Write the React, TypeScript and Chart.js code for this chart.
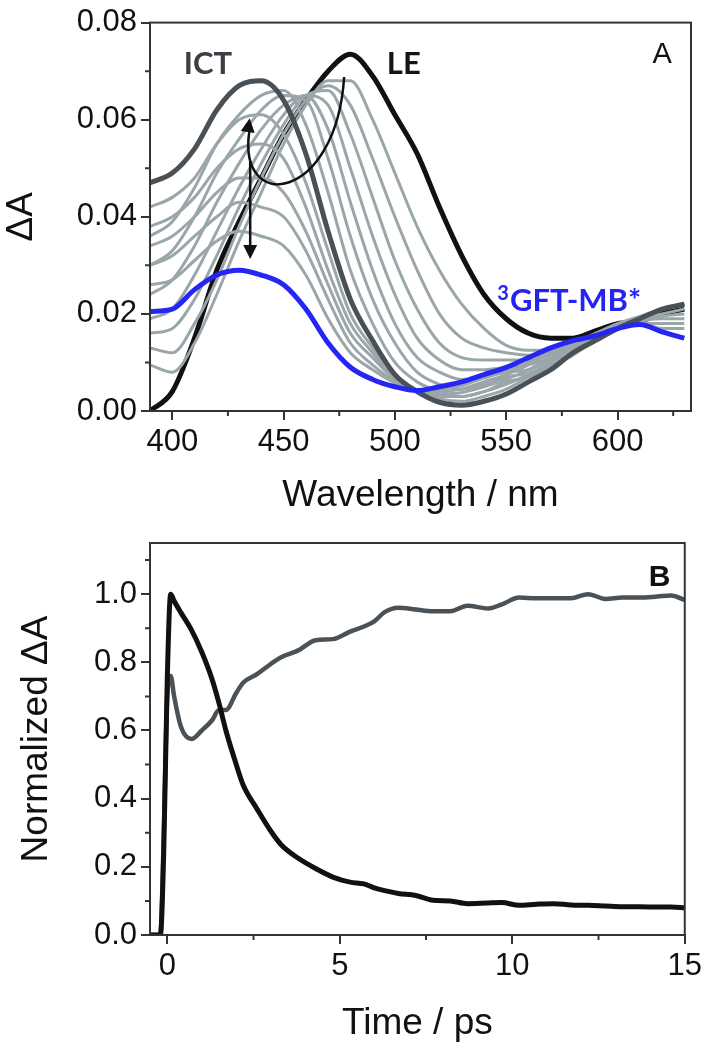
import { useEffect, useRef } from "react"
import { Chart, registerables } from "chart.js"

Chart.register(...registerables)

// ---- panel A: transient spectra ----
const wavelengths = [390, 400, 410, 420, 430, 440, 450, 460, 470, 480, 490, 500, 510, 520, 530, 540, 550, 560, 570, 580, 590, 600, 610, 620, 630]

const leSpectrum = [0.0, 0.004, 0.015, 0.029, 0.039, 0.048, 0.057, 0.064, 0.07, 0.0735, 0.069, 0.061, 0.053, 0.042, 0.032, 0.024, 0.019, 0.016, 0.015, 0.015, 0.0165, 0.018, 0.0185, 0.02, 0.021]
const ictSpectrum = [0.047, 0.049, 0.054, 0.062, 0.067, 0.068, 0.064, 0.053, 0.037, 0.023, 0.0145, 0.0075, 0.004, 0.0018, 0.0012, 0.002, 0.0035, 0.006, 0.0085, 0.012, 0.0145, 0.017, 0.019, 0.021, 0.022]
const tripletSpectrum = [0.0205, 0.021, 0.025, 0.028, 0.029, 0.028, 0.026, 0.021, 0.014, 0.009, 0.0065, 0.005, 0.0042, 0.005, 0.006, 0.0075, 0.009, 0.011, 0.013, 0.0145, 0.0155, 0.017, 0.0178, 0.0163, 0.015]

// LE -> ICT conversion
const rise1 = [0.036, 0.039, 0.046, 0.055, 0.061, 0.065, 0.066, 0.059, 0.045, 0.029, 0.018, 0.01, 0.006, 0.004, 0.003, 0.004, 0.006, 0.007, 0.009, 0.0115, 0.0145, 0.017, 0.019, 0.021, 0.022]
const rise2 = [0.03, 0.033, 0.04, 0.049, 0.056, 0.062, 0.065, 0.064, 0.052, 0.036, 0.023, 0.014, 0.008, 0.0055, 0.0045, 0.0055, 0.007, 0.0078, 0.0098, 0.012, 0.0145, 0.017, 0.019, 0.021, 0.022]
const rise3 = [0.024, 0.027, 0.034, 0.043, 0.051, 0.058, 0.063, 0.065, 0.058, 0.043, 0.029, 0.018, 0.011, 0.008, 0.0065, 0.007, 0.008, 0.0085, 0.0105, 0.0125, 0.015, 0.017, 0.019, 0.021, 0.022]
const rise4 = [0.019, 0.021, 0.028, 0.037, 0.046, 0.054, 0.061, 0.065, 0.063, 0.05, 0.036, 0.024, 0.015, 0.0105, 0.0085, 0.0085, 0.009, 0.0095, 0.011, 0.013, 0.015, 0.017, 0.019, 0.021, 0.022]
const rise5 = [0.016, 0.017, 0.023, 0.032, 0.042, 0.051, 0.059, 0.065, 0.066, 0.057, 0.044, 0.031, 0.021, 0.014, 0.011, 0.0105, 0.0105, 0.0105, 0.0115, 0.013, 0.015, 0.017, 0.019, 0.021, 0.022]
const rise6 = [0.013, 0.012, 0.018, 0.027, 0.038, 0.048, 0.057, 0.064, 0.067, 0.063, 0.052, 0.04, 0.029, 0.02, 0.015, 0.013, 0.012, 0.0115, 0.012, 0.0135, 0.0155, 0.0175, 0.019, 0.021, 0.022]
const rise7 = [0.0095, 0.008, 0.014, 0.024, 0.035, 0.045, 0.055, 0.063, 0.068, 0.068, 0.06, 0.049, 0.038, 0.029, 0.022, 0.017, 0.0135, 0.0125, 0.0125, 0.014, 0.016, 0.018, 0.0195, 0.021, 0.022]

// ICT -> triplet decay
const decay1 = [0.042, 0.044, 0.048, 0.055, 0.06, 0.061, 0.057, 0.047, 0.033, 0.02, 0.013, 0.007, 0.004, 0.0025, 0.002, 0.003, 0.0045, 0.007, 0.0095, 0.0125, 0.015, 0.017, 0.019, 0.02, 0.021]
const decay2 = [0.038, 0.04, 0.044, 0.05, 0.054, 0.055, 0.052, 0.042, 0.029, 0.018, 0.012, 0.0068, 0.0042, 0.003, 0.003, 0.004, 0.0055, 0.0075, 0.01, 0.013, 0.015, 0.017, 0.0185, 0.0195, 0.02]
const decay3 = [0.034, 0.036, 0.04, 0.045, 0.048, 0.048, 0.045, 0.037, 0.026, 0.016, 0.011, 0.0065, 0.0042, 0.0035, 0.0038, 0.005, 0.0065, 0.0085, 0.011, 0.0135, 0.015, 0.017, 0.0185, 0.019, 0.019]
const decay4 = [0.03, 0.032, 0.036, 0.04, 0.043, 0.042, 0.04, 0.033, 0.023, 0.014, 0.0095, 0.006, 0.0042, 0.004, 0.0045, 0.006, 0.0075, 0.0095, 0.012, 0.014, 0.0152, 0.017, 0.018, 0.018, 0.018]
const decay5 = [0.026, 0.027, 0.031, 0.035, 0.037, 0.036, 0.034, 0.028, 0.019, 0.012, 0.0085, 0.0058, 0.0042, 0.0045, 0.0052, 0.0068, 0.0082, 0.01, 0.0125, 0.0142, 0.0153, 0.017, 0.018, 0.017, 0.017]

const intermediateSpectra = [rise1, rise2, rise3, rise4, rise5, rise6, rise7, decay1, decay2, decay3, decay4, decay5]

const wavelengthTicks = [400, 450, 500, 550, 600]
const wavelengthMinor = [425, 475, 525, 575, 625]
const deltaATicks = [0, 0.02, 0.04, 0.06, 0.08]
const deltaAMinor = [0.01, 0.03, 0.05, 0.07]

// ---- panel B: kinetics ----
const times = [-0.5, -0.2, -0.1, 0, 0.1, 0.2, 0.4, 0.7, 1.0, 1.3, 1.5, 1.7, 2.0, 2.2, 2.6, 3.0, 3.3, 3.8, 4.3, 4.8, 5.3, 5.7, 6.0, 6.3, 6.7, 7.2, 7.7, 8.2, 8.7, 9.3, 9.7, 10.2, 10.7, 11.2, 11.7, 12.2, 12.7, 13.2, 13.7, 14.2, 14.6, 15]
const leKinetics = [0, 0, 0.25, 0.75, 1.0, 0.98, 0.945, 0.895, 0.83, 0.75, 0.68, 0.6, 0.5, 0.44, 0.37, 0.305, 0.265, 0.225, 0.195, 0.17, 0.155, 0.15, 0.138, 0.13, 0.122, 0.116, 0.102, 0.1, 0.092, 0.094, 0.095, 0.087, 0.09, 0.092, 0.088, 0.087, 0.085, 0.083, 0.083, 0.082, 0.082, 0.08]
const ictKinetics = [0, 0, 0.3, 0.7, 0.76, 0.7, 0.61, 0.575, 0.6, 0.63, 0.66, 0.66, 0.71, 0.74, 0.765, 0.795, 0.815, 0.835, 0.865, 0.868, 0.89, 0.905, 0.92, 0.947, 0.96, 0.955, 0.95, 0.95, 0.966, 0.958, 0.97, 0.99, 0.988, 0.988, 0.988, 1.0, 0.986, 0.99, 0.99, 0.993, 0.996, 0.983]

const timeTicks = [0, 5, 10, 15]
const timeMinor = [2.5, 7.5, 12.5]
const normTicks = [0, 0.2, 0.4, 0.6, 0.8, 1.0]
const normMinor = [0.1, 0.3, 0.5, 0.7, 0.9, 1.1]

const FONT = "'Liberation Sans', Arial, sans-serif"
const NOTE_FONT = "Lato, 'Open Sans', sans-serif"
const axisColor = "#2f3539"
const textColor = "#111111"

const points = (xs: number[], ys: number[]) => xs.map((x, i) => ({ x, y: ys[i] }))

// box around the plot area + short minor ticks
function framePlugin(xMinor: number[], yMinor: number[]) {
  return {
    id: "frame",
    afterDraw(chart: any) {
      const { ctx, chartArea: a, scales } = chart
      ctx.save()
      ctx.strokeStyle = axisColor
      ctx.lineWidth = 2
      ctx.strokeRect(a.left, a.top, a.right - a.left, a.bottom - a.top)
      ctx.beginPath()
      xMinor.forEach((v) => {
        const px = scales.x.getPixelForValue(v)
        ctx.moveTo(px, a.bottom)
        ctx.lineTo(px, a.bottom + 5)
      })
      yMinor.forEach((v) => {
        const py = scales.y.getPixelForValue(v)
        ctx.moveTo(a.left, py)
        ctx.lineTo(a.left - 5, py)
      })
      ctx.stroke()
      ctx.restore()
    },
  }
}

function arrowHead(ctx: CanvasRenderingContext2D, tipX: number, tipY: number, dx: number, dy: number) {
  const len = Math.hypot(dx, dy)
  const ux = dx / len
  const uy = dy / len
  const size = 14
  const half = 7
  ctx.beginPath()
  ctx.moveTo(tipX, tipY)
  ctx.lineTo(tipX - ux * size - uy * half, tipY - uy * size + ux * half)
  ctx.lineTo(tipX - ux * size + uy * half, tipY - uy * size - ux * half)
  ctx.closePath()
  ctx.fill()
}

const spectraNotes = {
  id: "spectraNotes",
  afterDatasetsDraw(chart: any) {
    const { ctx } = chart
    const X = (v: number) => chart.scales.x.getPixelForValue(v)
    const Y = (v: number) => chart.scales.y.getPixelForValue(v)
    ctx.save()

    ctx.textBaseline = "alphabetic"
    ctx.textAlign = "center"
    ctx.font = `bold 31px ${NOTE_FONT}`
    ctx.fillStyle = "#3a4045"
    ctx.fillText("ICT", X(416), Y(0.0694))
    ctx.fillStyle = "#151515"
    ctx.fillText("LE", X(504), Y(0.0694))

    ctx.font = `29px ${FONT}`
    ctx.fillStyle = textColor
    ctx.fillText("A", X(620), Y(0.0717))

    // ³GFT-MB*
    ctx.textAlign = "left"
    ctx.fillStyle = "#2424f0"
    const startX = X(546)
    const baseY = Y(0.0206)
    ctx.font = `bold 20px ${NOTE_FONT}`
    ctx.fillText("3", startX, baseY - 11)
    const supW = ctx.measureText("3").width
    ctx.font = `bold 31px ${NOTE_FONT}`
    ctx.fillText("GFT-MB*", startX + supW + 1, baseY)

    // arrows
    ctx.strokeStyle = "#111111"
    ctx.fillStyle = "#111111"
    ctx.lineWidth = 2.5

    // straight arrow (ICT decay)
    const ax = X(435)
    ctx.beginPath()
    ctx.moveTo(ax, Y(0.0515))
    ctx.lineTo(ax, Y(0.0313) - 10)
    ctx.stroke()
    arrowHead(ctx, ax, Y(0.0313), 0, 1)

    // curved arrow (LE -> ICT)
    const p0 = [X(477.2), Y(0.0688)]
    const p1 = [X(473.6), Y(0.043)]
    const p2 = [X(429.2), Y(0.0405)]
    const p3 = [X(434.6), Y(0.0576)]
    ctx.beginPath()
    ctx.moveTo(p0[0], p0[1])
    ctx.bezierCurveTo(p1[0], p1[1], p2[0], p2[1], p3[0], p3[1])
    ctx.stroke()
    arrowHead(ctx, X(434.8), Y(0.0603), p3[0] - p2[0], p3[1] - p2[1])

    ctx.restore()
  },
}

const kineticsNotes = {
  id: "kineticsNotes",
  afterDatasetsDraw(chart: any) {
    const { ctx } = chart
    ctx.save()
    ctx.font = `bold 30px ${FONT}`
    ctx.fillStyle = textColor
    ctx.textAlign = "center"
    ctx.textBaseline = "alphabetic"
    ctx.fillText("B", chart.scales.x.getPixelForValue(14.27), chart.scales.y.getPixelForValue(1.0235))
    ctx.restore()
  },
}

function axis(opts: {
  min: number
  max: number
  ticks: number[]
  decimals: number
  title: string
  titlePadding: any
  fit: (scale: any) => void
}) {
  return {
    type: "linear" as const,
    min: opts.min,
    max: opts.max,
    afterBuildTicks: (scale: any) => {
      scale.ticks = opts.ticks.map((value) => ({ value }))
    },
    afterFit: opts.fit,
    ticks: {
      font: { family: FONT, size: 31 },
      color: textColor,
      padding: 4,
      maxRotation: 0,
      autoSkip: false,
      callback: (v: any) => Number(v).toFixed(opts.decimals),
    },
    grid: {
      display: true,
      drawOnChartArea: false,
      drawTicks: true,
      tickLength: 9,
      tickWidth: 2,
      tickColor: axisColor,
      color: axisColor,
      lineWidth: 2,
    },
    border: { display: true, color: axisColor, width: 2 },
    title: {
      display: true,
      text: opts.title,
      font: { family: FONT, size: 37 },
      color: textColor,
      padding: opts.titlePadding,
    },
  }
}

export default function App() {
  const spectraRef = useRef<HTMLCanvasElement>(null)
  const kineticsRef = useRef<HTMLCanvasElement>(null)

  useEffect(() => {
    if (!spectraRef.current || !kineticsRef.current) return

    const lineBase = {
      pointRadius: 0,
      fill: false,
      cubicInterpolationMode: "monotone" as const,
    }

    const spectra = new Chart(spectraRef.current, {
      type: "line",
      data: {
        datasets: [
          { ...lineBase, data: points(wavelengths, tripletSpectrum), borderColor: "#2626f2", borderWidth: 5 },
          { ...lineBase, data: points(wavelengths, ictSpectrum), borderColor: "#4a5156", borderWidth: 5 },
          ...intermediateSpectra.map((s) => ({
            ...lineBase,
            data: points(wavelengths, s),
            borderColor: "#9ba6aa",
            borderWidth: 3,
          })),
          { ...lineBase, data: points(wavelengths, leSpectrum), borderColor: "#111111", borderWidth: 5 },
        ],
      },
      options: {
        responsive: false,
        animation: false,
        layout: { padding: { top: 18, right: 15, left: 0, bottom: 0 } },
        plugins: { legend: { display: false }, tooltip: { enabled: false } },
        scales: {
          x: axis({
            min: 390,
            max: 633,
            ticks: wavelengthTicks,
            decimals: 0,
            title: "Wavelength / nm",
            titlePadding: { top: 0, bottom: 2 },
            fit: (s) => {
              s.height = 109
            },
          }),
          y: axis({
            min: 0,
            max: 0.08,
            ticks: deltaATicks,
            decimals: 2,
            title: "\u0394A",
            titlePadding: { top: 0, bottom: 0 },
            fit: (s) => {
              s.width = 150
            },
          }),
        },
      },
      plugins: [framePlugin(wavelengthMinor, deltaAMinor), spectraNotes],
    })

    const kinetics = new Chart(kineticsRef.current, {
      type: "line",
      data: {
        datasets: [
          { ...lineBase, data: points(times, leKinetics), borderColor: "#111111", borderWidth: 5 },
          { ...lineBase, data: points(times, ictKinetics), borderColor: "#4b5257", borderWidth: 4.5 },
        ],
      },
      options: {
        responsive: false,
        animation: false,
        layout: { padding: { top: 23, right: 16, left: 0, bottom: 0 } },
        plugins: { legend: { display: false }, tooltip: { enabled: false } },
        scales: {
          x: axis({
            min: -0.5,
            max: 15,
            ticks: timeTicks,
            decimals: 0,
            title: "Time / ps",
            titlePadding: { top: 0, bottom: 1 },
            fit: (s) => {
              s.height = 112
            },
          }),
          y: axis({
            min: 0,
            max: 1.15,
            ticks: normTicks,
            decimals: 1,
            title: "Normalized \u0394A",
            titlePadding: { top: 15, bottom: 0 },
            fit: (s) => {
              s.width = 150
            },
          }),
        },
      },
      plugins: [framePlugin(timeMinor, normMinor), kineticsNotes],
    })

    return () => {
      spectra.destroy()
      kinetics.destroy()
    }
  }, [])

  return (
    <div style={{ position: "absolute", left: 0, top: 0, width: 706, background: "#fff" }}>
      <canvas ref={spectraRef} width={706} height={520} style={{ display: "block" }} />
      <canvas ref={kineticsRef} width={706} height={527} style={{ display: "block" }} />
    </div>
  )
}
